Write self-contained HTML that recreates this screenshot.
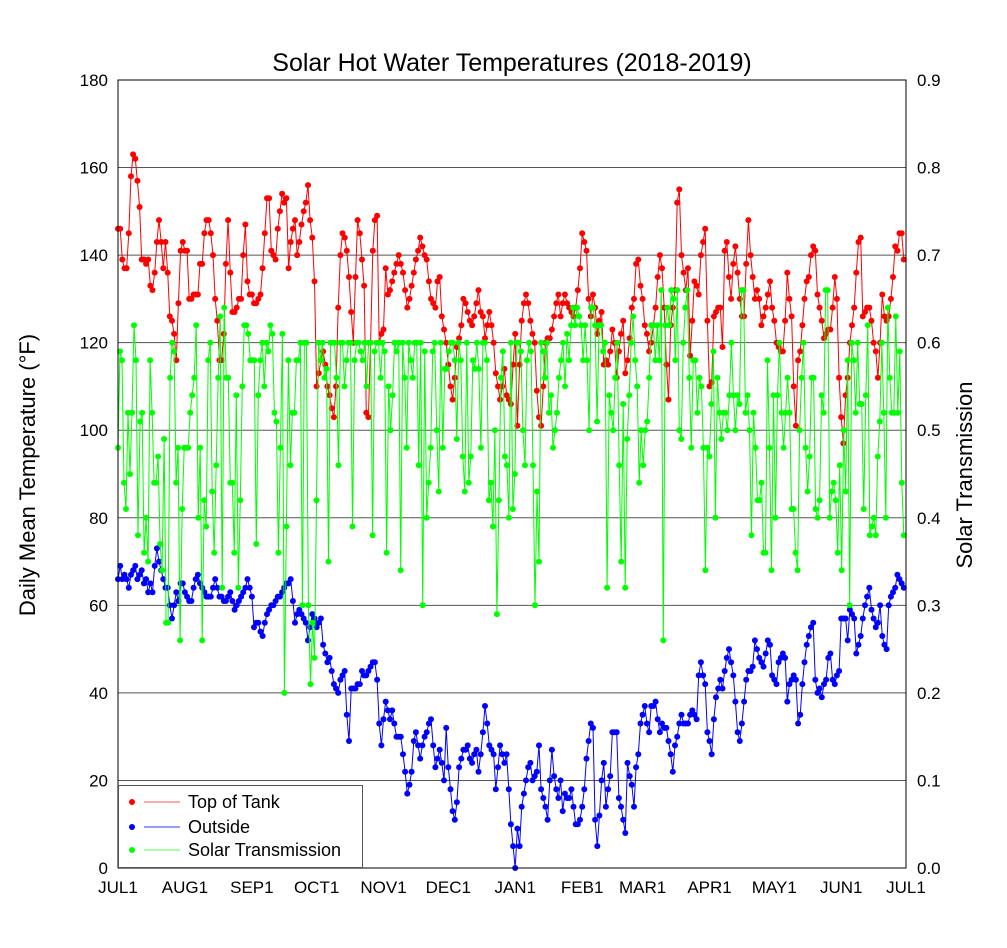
<!DOCTYPE html>
<html><head><meta charset="utf-8"><style>
html,body{margin:0;padding:0;background:#fff;}
svg{display:block;font-family:"Liberation Sans",sans-serif;}
</style></head><body>
<svg id="chart" width="1007" height="948" viewBox="0 0 1007 948" xmlns="http://www.w3.org/2000/svg">
<rect x="0" y="0" width="1007" height="948" fill="#fff"/>
<text x="512" y="71" font-size="25" text-anchor="middle">Solar Hot Water Temperatures (2018-2019)</text>
<text transform="translate(35,475) rotate(-90)" font-size="22" text-anchor="middle">Daily Mean Temperature (°F)</text>
<text transform="translate(972,475) rotate(-90)" font-size="22" text-anchor="middle">Solar Transmission</text>
<g id="grid"></g>
<g id="ticks"></g>
<g id="series"></g>
<rect x="118" y="80" width="788" height="788" fill="none" stroke="#000" stroke-width="1"/>
<g>
<rect x="118.5" y="785.5" width="244" height="82" fill="#fff" stroke="#555" stroke-width="1"/>
<g><circle cx="132" cy="802" r="3" fill="#f00"/><line x1="144" y1="802" x2="180" y2="802" stroke="#f55" stroke-width="1"/><text x="188" y="808" font-size="18">Top of Tank</text></g>
<g><circle cx="132" cy="827" r="3" fill="#00f"/><line x1="144" y1="827" x2="180" y2="827" stroke="#33f" stroke-width="1"/><text x="188" y="833" font-size="18">Outside</text></g>
<g><circle cx="132" cy="850" r="3" fill="#0f0"/><line x1="144" y1="850" x2="180" y2="850" stroke="#5f5" stroke-width="1"/><text x="188" y="856" font-size="18">Solar Transmission</text></g>
</g>
</svg>
<script>
const monthLabels=["JUL1","AUG1","SEP1","OCT1","NOV1","DEC1","JAN1","FEB1","MAR1","APR1","MAY1","JUN1","JUL1"];
const monthDays=[0,31,62,92,123,153,184,215,243,274,304,335,365];
const leftTicks=[0,20,40,60,80,100,120,140,160,180];
const rightTicks=["0.0","0.1","0.2","0.3","0.4","0.5","0.6","0.7","0.8","0.9"];
const tankTemps=[146,146,139,137,137,145,158,163,162,157,151,139,139,138,139,133,132,136,143,148,143,137,143,136,126,125,122,116,129,141,143,141,141,130,130,131,131,131,138,138,145,148,148,145,140,130,125,116,116,122,138,148,136,127,127,128,130,130,140,147,134,131,131,129,129,130,131,137,145,153,153,141,140,139,146,150,154,152,153,137,143,146,148,140,143,147,150,152,156,148,144,134,110,113,116,118,115,110,108,105,103,110,128,140,145,144,141,135,127,120,135,148,145,139,133,104,103,120,141,148,149,120,122,123,137,131,132,134,136,138,140,138,136,132,128,130,133,136,139,141,144,142,140,139,134,130,129,128,134,135,126,123,120,115,110,107,112,119,121,124,130,129,127,125,124,126,129,132,127,126,121,124,127,124,120,113,110,107,110,114,108,107,106,115,122,101,115,125,129,131,129,125,122,120,109,103,101,110,120,121,121,123,126,129,131,126,129,131,129,128,127,126,128,132,137,145,143,141,130,126,131,128,122,125,127,115,116,115,118,123,120,112,118,122,125,113,116,121,128,130,138,139,133,130,124,122,118,120,124,128,135,140,137,128,115,107,124,128,132,152,155,140,136,132,137,117,125,134,133,131,140,143,146,125,110,111,126,127,128,128,119,141,143,135,130,138,142,136,130,126,126,138,148,140,135,130,132,130,124,126,128,131,134,128,125,120,119,118,118,125,136,130,126,110,101,116,118,124,130,134,135,140,142,141,131,128,125,121,122,123,123,128,135,130,112,103,97,108,112,120,124,128,136,143,144,126,127,128,128,125,120,118,112,120,131,126,125,126,130,135,142,141,145,145,139];
const outsideTemps=[66,69,66,67,66,64,67,68,69,66,67,68,65,66,63,65,63,69,73,70,68,66,64,64,60,57,60,63,61,65,65,63,62,61,61,64,66,67,65,64,63,62,62,62,64,66,64,62,62,61,61,62,63,61,59,60,61,62,63,64,66,64,62,55,56,56,54,53,56,58,59,60,60,61,62,62,63,64,65,65,66,61,56,58,59,58,57,56,52,55,58,57,55,56,57,51,49,47,48,45,42,41,40,43,44,45,35,29,41,41,41,42,42,45,44,44,45,46,47,47,43,33,28,34,38,36,34,36,33,30,30,30,26,22,17,19,22,29,31,28,25,28,30,31,33,34,28,23,25,27,24,20,32,23,18,13,11,15,23,25,27,27,28,25,24,26,27,22,26,31,37,33,28,27,26,18,23,28,26,24,26,18,10,5,0,9,5,14,17,20,23,24,20,21,22,28,18,16,14,11,20,27,21,18,16,20,13,17,16,16,18,14,10,10,11,14,18,25,29,33,32,11,5,12,20,24,14,18,21,31,31,31,16,14,11,8,24,21,19,14,23,26,33,35,37,33,31,37,37,38,34,31,33,32,32,29,26,22,28,30,33,35,33,33,33,35,36,35,34,44,47,44,42,31,29,26,34,39,41,43,41,45,48,50,47,44,38,31,29,33,38,43,45,45,46,52,50,48,47,46,49,52,51,44,43,42,47,48,49,48,38,42,43,44,43,33,35,42,47,51,53,55,56,43,40,41,39,42,43,48,49,43,42,44,45,57,57,57,52,59,58,57,49,51,53,57,60,62,64,59,57,55,56,60,53,51,50,60,62,63,64,67,66,65,64];
const solarPercent=[48,59,58,44,41,52,45,52,62,58,38,51,52,36,40,35,58,52,44,44,47,37,34,49,28,28,56,60,59,44,48,26,41,48,48,48,52,54,56,62,40,48,26,42,39,58,60,43,36,46,56,63,32,64,56,56,44,44,36,54,32,42,55,62,62,61,58,58,58,37,54,58,60,55,60,59,62,61,52,51,36,48,61,20,39,58,46,52,52,58,58,60,30,60,60,30,21,28,24,42,60,58,60,56,57,35,60,60,60,56,46,60,60,55,58,60,60,39,58,60,60,59,58,60,55,60,60,38,59,60,60,56,60,59,36,55,50,54,60,59,60,34,60,56,48,60,58,56,60,60,46,60,30,59,40,44,48,59,60,50,43,60,48,57,57,59,60,60,58,49,60,58,47,43,60,44,47,58,57,60,57,48,60,60,58,42,44,39,50,29,42,56,59,47,46,40,60,41,45,60,60,59,50,46,58,60,59,46,30,43,35,60,59,56,60,52,54,48,50,52,56,58,60,55,61,58,62,64,62,64,63,62,58,62,58,50,64,64,62,51,62,62,59,60,32,54,52,50,56,60,46,35,53,32,49,54,60,63,58,55,44,50,46,50,51,56,62,62,58,62,58,66,26,62,64,62,66,65,58,66,50,49,60,64,66,56,48,58,58,52,56,55,48,34,48,47,53,59,40,56,52,49,52,52,50,54,60,54,50,54,53,66,66,52,54,50,38,52,48,42,42,44,36,36,58,48,34,54,40,54,60,52,48,52,56,52,41,41,36,34,50,56,60,48,43,47,56,56,41,40,42,54,52,66,66,40,43,44,42,36,46,34,50,43,58,30,60,58,52,60,53,53,41,54,62,38,39,40,38,47,51,60,52,40,64,56,52,52,63,52,59,44,38];

const NS="http://www.w3.org/2000/svg";
const L=118,T=80,W=788,H=788;
const xDay=d=>L+d*W/365;
const yTemp=v=>T+H-v*H/180;
const yTrans=v=>T+H-v*H/0.9;
function mk(tag,attrs,parent){const e=document.createElementNS(NS,tag);for(const k in attrs)e.setAttribute(k,attrs[k]);parent.appendChild(e);return e;}
const grid=document.getElementById('grid'),ticks=document.getElementById('ticks'),series=document.getElementById('series');
leftTicks.forEach((t,i)=>{
  const y=yTemp(t);
  if(t>0&&t<180){const g=mk('line',{x1:L,x2:L+W,y1:y,y2:y,stroke:'#555','stroke-width':1},grid);
    
    }
  const lt=mk('text',{x:108,y:y+6,'font-size':17,'text-anchor':'end'},ticks);lt.textContent=t;
  
  
  const rt=mk('text',{x:917,y:y+6,'font-size':17,'text-anchor':'start'},ticks);rt.textContent=rightTicks[i];
  
  
});
monthLabels.forEach((m,i)=>{
  const x=xDay(monthDays[i]);
  const t=mk('text',{x:x,y:893,'font-size':17,'text-anchor':'middle'},ticks);t.textContent=m;
  
  
});
function draw(name,pts,color,lineColor){
  const g=mk('g',{},series);
  
  
  const pl=mk('polyline',{points:pts.map(p=>p[0].toFixed(1)+','+p[1].toFixed(1)).join(' '),fill:'none',stroke:lineColor,'stroke-width':1},g);
  
  
  pts.forEach(p=>{const c=mk('circle',{cx:p[0].toFixed(1),cy:p[1].toFixed(1),r:3,fill:color},g);
    
    });
}
draw('tank',tankTemps.map((v,i)=>[xDay(i),yTemp(v)]),'#f00','#f00');
draw('outside',outsideTemps.map((v,i)=>[xDay(i),yTemp(v)]),'#00f','#00f');
draw('solar',solarPercent.map((v,i)=>[xDay(i*364/(solarPercent.length-1)),yTrans(v/100)]),'#0f0','#0f0');
</script>
</body></html>
